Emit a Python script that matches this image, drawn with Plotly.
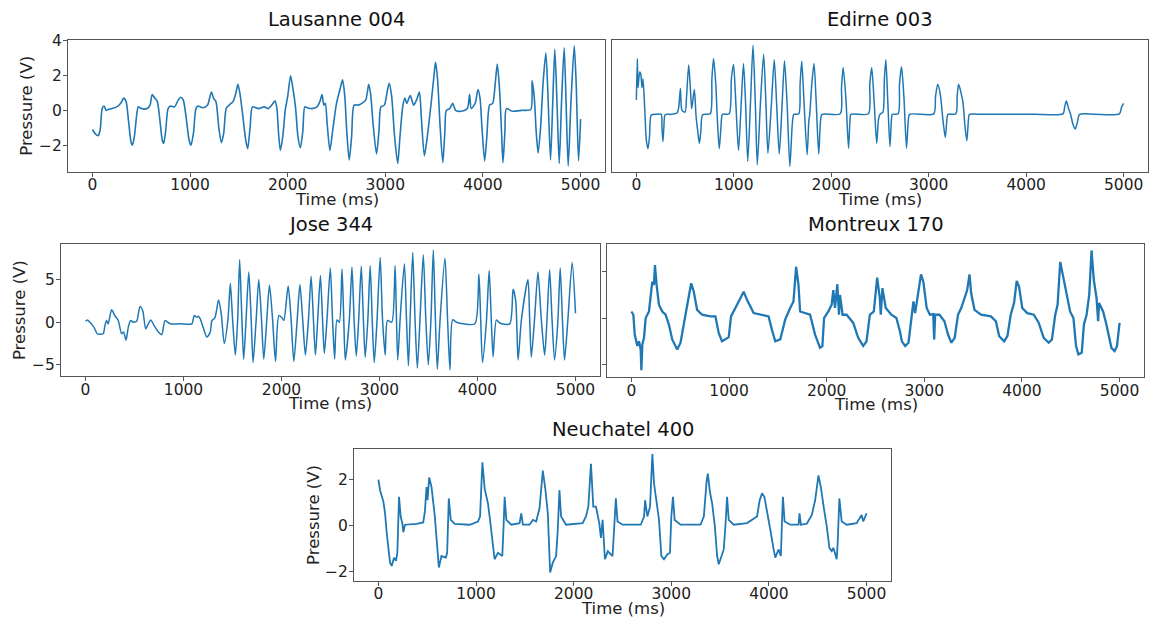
import plotly.graph_objects as go

# ---------------- data (time ms, pressure V) ----------------
lausanne = [(0,-1.1),(30,-1.35),(60,-1.45),(80,-1.1),(100,0.1),(120,0.25),(140,0.0),(160,0.05),(200,0.1),(250,0.2),
 (290,0.4),(320,0.7),(345,0.5),(370,-0.6),(395,-1.8),(410,-2.0),(430,-1.5),(455,-0.2),(470,0.2),(500,0.1),(560,0.1),
 (590,0.3),(612,0.9),(640,0.7),(665,0.5),(690,-0.5),(715,-1.7),(730,-1.9),(750,-1.2),(775,0.1),(800,0.25),(840,0.2),
 (880,0.6),(905,0.75),(930,0.6),(960,-0.4),(990,-1.7),(1010,-2.0),(1035,-1.3),(1060,0.1),(1080,0.25),(1130,0.15),
 (1180,0.3),(1200,0.7),(1220,1.05),(1240,0.7),(1265,0.5),(1295,-1.0),(1320,-1.85),(1345,-1.3),(1370,0.1),(1400,0.3),
 (1440,0.5),(1470,1.0),(1490,1.5),(1510,1.0),(1540,-0.3),(1570,-1.7),(1590,-2.2),(1615,-1.0),(1640,0.2),(1700,0.1),
 (1760,0.2),(1800,0.1),(1850,0.4),(1870,0.55),(1890,0.1),(1905,-1.2),(1925,-2.3),(1950,-1.5),(1975,0.0),(2000,0.8),
 (2030,1.98),(2055,1.2),(2080,0.2),(2105,-1.5),(2130,-2.15),(2155,-1.2),(2175,0.2),(2200,0.15),(2250,0.1),(2300,0.2),
 (2330,0.5),(2352,0.9),(2370,0.3),(2385,0.4),(2405,-0.8),(2432,-2.3),(2460,-1.2),(2500,0.4),(2540,1.3),(2562,1.75),
 (2585,0.8),(2605,-1.2),(2630,-2.85),(2655,-1.5),(2680,0.3),(2720,0.3),(2760,0.4),(2800,0.6),(2830,1.5),(2850,0.9),
 (2875,-0.8),(2910,-2.5),(2935,-1.2),(2955,0.2),(2990,0.3),(3020,1.1),(3040,1.55),(3065,0.8),(3095,-1.5),(3127,-3.05),
 (3150,-1.5),(3178,0.2),(3200,0.7),(3220,0.4),(3255,0.85),(3290,0.3),(3320,0.6),(3349,1.05),(3370,-0.5),(3400,-2.6),
 (3430,-1.5),(3469,0.4),(3495,1.8),(3514,2.75),(3535,1.8),(3560,-0.8),(3589,-3.0),(3610,-1.2),(3625,0.0),(3660,0.1),
 (3690,0.4),(3720,0.0),(3780,-0.05),(3840,0.1),(3863,0.9),(3880,0.1),(3920,0.4),(3949,1.2),(3970,0.7),(3990,-1.0),
 (4017,-2.9),(4040,-1.5),(4068,0.3),(4100,0.4),(4125,1.5),(4147,2.65),(4170,1.2),(4190,-1.2),(4205,-3.0),(4225,-1.2),
 (4240,0.1),(4300,-0.05),(4400,0.0),(4490,0.05),(4503,1.7),(4525,0.8),(4545,-1.2),(4565,-2.45),(4590,-1.0),(4615,1.5),
 (4644,3.3),(4665,1.0),(4692,-2.85),(4715,0.5),(4736,3.5),(4758,0.5),(4781,-3.05),(4805,0.5),(4832,3.6),(4852,0.3),
 (4873,-3.2),(4900,0.3),(4935,3.7),(4955,1.5),(4979,-2.9),(5000,-0.5)]

edirne = [(0,0.6),(10,2.97),(17,1.3),(34,2.2),(45,2.1),(58,1.3),(68,1.8),(85,0.2),(102,-1.7),(119,-2.2),(135,-1.5),
 (153,-0.27),(200,-0.23),(255,-0.23),(262,-0.9),(272,-1.79),(282,-1.0),(296,-0.25),(360,-0.23),(418,-0.15),(435,0.2),
 (452,1.26),(468,0.0),(500,-0.1),(515,0.8),(537,2.6),(555,1.2),(568,0.1),(595,1.2),(612,-0.3),(630,-1.2),(646,-1.89),
 (662,-1.2),(680,-0.25),(758,-0.2),(775,1.8),(792,2.97),(815,1.5),(830,-0.4),(850,-2.2),(868,-1.0),(884,-0.23),
 (952,-0.2),(975,1.8),(997,2.65),(1020,0.5),(1048,-2.3),(1075,0.3),(1099,2.69),(1120,0.5),(1143,-2.93),(1170,0.3),
 (1197,3.73),(1220,0.5),(1241,-3.12),(1272,0.3),(1306,3.22),(1330,0.3),(1350,-2.46),(1385,0.3),(1415,2.91),(1440,0.3),
 (1466,-2.51),(1495,0.3),(1520,2.84),(1548,0.2),(1575,-3.22),(1600,-0.8),(1616,-0.23),(1667,-0.2),(1680,1.5),
 (1697,2.82),(1720,0.5),(1752,-2.55),(1770,-0.6),(1779,-0.23),(1800,1.5),(1823,2.69),(1845,0.5),(1871,-2.51),
 (1890,-0.6),(1905,-0.23),(2092,-0.2),(2105,1.3),(2122,2.46),(2150,0.7),(2177,-2.17),(2192,-0.6),(2201,-0.23),
 (2381,-0.2),(2395,1.5),(2415,2.44),(2440,0.5),(2466,-1.89),(2485,-0.5),(2500,-0.23),(2530,-0.1),(2545,1.8),
 (2560,2.91),(2580,0.5),(2602,-2.08),(2618,-0.5),(2626,-0.23),(2687,-0.2),(2700,1.5),(2721,2.5),(2745,0.8),
 (2772,-2.17),(2790,-0.6),(2803,-0.23),(3051,-0.2),(3070,0.8),(3092,1.5),(3118,0.95),(3145,-0.5),(3170,-1.56),
 (3187,-0.5),(3197,-0.23),(3279,-0.2),(3292,0.8),(3306,1.5),(3350,0.5),(3370,-0.8),(3391,-1.75),(3408,-0.5),
 (3418,-0.23),(3500,-0.22),(3700,-0.23),(3900,-0.23),(4100,-0.22),(4378,-0.2),(4395,0.2),(4412,0.53),(4435,0.1),
 (4456,-0.23),(4480,-0.8),(4503,-1.07),(4525,-0.7),(4548,-0.23),(4700,-0.22),(4956,-0.2),(4980,0.2),(5000,0.4)]

jose = [(0,0.1),(20,0.27),(45,0.0),(61,-0.2),(95,-0.77),(119,-1.35),(147,-1.42),(181,-1.35),(198,-0.4),(215,0.2),
 (232,-0.2),(266,1.46),(300,0.77),(334,0.2),(369,-1.35),(389,-1.15),(413,-2.1),(437,-0.58),(461,0.19),(488,0.0),
 (522,0.1),(556,1.85),(584,1.35),(614,-0.77),(641,-0.2),(666,0.27),(700,-0.38),(744,-1.15),(778,-1.46),(812,0.19),
 (863,-0.19),(966,-0.19),(1085,-0.19),(1109,0.77),(1136,0.58),(1150,0.7),(1171,0.38),(1205,-0.77),(1239,-1.73),
 (1273,-1.15),(1290,0.19),(1320,0.5),(1358,2.6),(1385,1.0),(1416,-2.5),(1454,0.4),(1478,4.54),(1500,0.5),(1529,-3.85),
 (1553,0.4),(1573,7.3),(1594,1.0),(1614,-4.35),(1638,0.2),(1666,5.88),(1690,0.5),(1710,-4.73),(1741,0.2),(1768,5.0),
 (1795,0.5),(1819,-4.35),(1850,0.3),(1877,4.35),(1908,0.5),(1939,-4.6),(1973,0.77),(2007,0.5),(2024,0.19),(2068,4.23),
 (2097,0.5),(2126,-4.6),(2160,0.27),(2188,4.42),(2215,0.5),(2244,-3.85),(2275,0.27),(2302,5.38),(2325,0.5),
 (2346,-3.85),(2370,0.4),(2397,5.46),(2418,0.5),(2437,-3.65),(2464,0.27),(2498,6.35),(2520,0.5),(2542,-4.3),
 (2566,0.27),(2590,0.0),(2617,6.23),(2635,0.5),(2651,-4.42),(2692,0.27),(2719,6.46),(2740,0.5),(2763,-3.96),
 (2787,0.2),(2814,6.54),(2835,0.5),(2854,-4.1),(2881,0.27),(2905,6.6),(2925,0.5),(2946,-4.73),(2973,-0.2),
 (3007,7.58),(3030,0.5),(3058,-3.85),(3082,0.2),(3125,0.0),(3159,6.6),(3173,0.5),(3186,-4.42),(3210,0.27),
 (3254,6.85),(3275,0.5),(3295,-5.1),(3312,0.2),(3339,8.15),(3362,0.5),(3386,-5.38),(3413,0.27),(3447,7.88),
 (3472,0.5),(3498,-5.0),(3525,0.27),(3549,8.46),(3570,0.5),(3590,-5.5),(3617,0.1),(3668,7.5),(3694,0.5),
 (3719,-5.58),(3746,0.27),(3786,0.0),(3854,-0.19),(3973,-0.19),(4014,5.65),(4032,0.5),(4051,-4.73),(4092,0.27),
 (4119,6.04),(4140,0.5),(4159,-4.04),(4193,0.27),(4227,-0.1),(4329,-0.19),(4363,3.85),(4390,2.5),(4414,-4.42),
 (4448,0.27),(4515,5.0),(4532,0.5),(4549,-4.1),(4583,0.5),(4617,5.88),(4650,0.5),(4685,-3.85),(4709,0.27),
 (4736,6.15),(4760,0.5),(4786,-4.42),(4820,0.1),(4844,6.35),(4866,0.5),(4888,-4.42),(4922,0.27),(4966,7.0),(5000,1.04)]

montreux = [(0,0.28),(20,0.14),(34,-0.71),(61,-1.2),(78,-1.0),(95,-1.35),(102,-2.24),(112,-1.13),(129,-0.85),(146,0.0),
 (180,0.28),(214,1.56),(231,1.42),(241,2.27),(258,1.42),(282,0.57),(316,0.28),(350,0.14),(384,-0.28),(418,-0.92),
 (469,-1.35),(503,-1.06),(554,0.14),(588,1.0),(612,1.49),(639,1.13),(673,0.35),(724,0.14),(809,0.07),(860,0.07),
 (894,-0.64),(928,-1.0),(962,-0.92),(997,-0.82),(1020,0.07),(1048,0.28),(1099,0.71),(1150,1.13),(1184,0.78),
 (1252,0.21),(1320,0.14),(1405,0.07),(1439,-0.5),(1473,-1.0),(1524,-0.92),(1575,-0.07),(1626,0.43),(1660,0.71),
 (1687,2.2),(1711,1.42),(1728,0.28),(1779,0.21),(1830,0.14),(1881,-0.71),(1932,-1.28),(1956,-1.21),(1973,0.0),
 (2017,0.28),(2051,0.57),(2068,1.2),(2085,0.43),(2109,1.45),(2126,0.14),(2136,0.99),(2163,0.14),(2204,0.14),
 (2272,-0.21),(2323,-0.85),(2374,-1.2),(2408,-1.0),(2442,0.14),(2483,0.28),(2517,1.73),(2544,0.85),(2554,0.14),
 (2571,1.28),(2605,0.43),(2663,0.14),(2714,0.0),(2750,-0.57),(2770,-1.0),(2804,-1.2),(2838,-1.06),(2872,0.14),
 (2889,0.71),(2906,0.21),(2932,0.85),(2966,1.87),(2990,1.56),(3024,0.43),(3057,0.14),(3091,0.17),(3101,-0.92),
 (3111,0.14),(3155,0.14),(3206,-0.14),(3243,-0.71),(3277,-1.06),(3311,-0.85),(3345,0.14),(3378,0.43),(3439,1.2),
 (3463,1.87),(3480,1.06),(3514,0.35),(3581,0.14),(3682,0.07),(3733,-0.14),(3767,-0.78),(3818,-1.0),(3851,-0.78),
 (3885,0.14),(3919,0.64),(3946,1.59),(3970,1.35),(4003,0.43),(4054,0.21),(4122,0.14),(4172,-0.21),(4223,-0.85),
 (4274,-1.06),(4307,-0.92),(4341,0.14),(4365,0.57),(4392,2.41),(4419,1.84),(4443,1.42),(4493,0.28),(4527,0.0),
 (4554,-1.2),(4578,-1.56),(4612,-1.49),(4635,-0.28),(4662,0.14),(4689,1.0),(4713,2.9),(4736,1.63),(4764,0.85),
 (4780,-0.14),(4790,0.64),(4831,0.28),(4865,-0.28),(4916,-1.28),(4949,-1.42),(4973,-1.21),(5000,-0.21)]

neuchatel = [(0,2.0),(17,1.54),(51,1.04),(68,0.53),(85,-0.33),(102,-1.05),(119,-1.63),(136,-1.77),(160,-1.41),
 (180,-1.55),(194,-1.2),(211,1.25),(228,0.39),(245,0.1),(255,-0.3),(272,0.03),(391,0.07),(459,0.13),(476,0.6),
 (493,1.68),(503,1.1),(520,2.1),(544,1.68),(578,0.39),(595,-0.62),(619,-1.84),(646,-1.34),(690,-1.41),(704,-1.2),
 (721,1.18),(741,0.24),(782,0.07),(935,0.03),(1020,0.17),(1041,0.39),(1065,2.76),(1088,1.61),(1122,0.96),(1139,0.39),
 (1167,-0.76),(1190,-1.48),(1224,-1.2),(1269,-1.34),(1282,-0.04),(1293,1.25),(1310,0.24),(1361,0.03),(1446,0.1),
 (1463,0.53),(1480,0.03),(1548,0.03),(1582,0.24),(1616,0.17),(1650,0.75),(1684,2.4),(1711,1.54),(1735,0.53),
 (1759,-2.06),(1786,-1.63),(1820,-1.34),(1837,-0.19),(1854,1.54),(1871,0.39),(1922,0.03),(2092,0.1),(2126,0.39),
 (2150,0.82),(2177,2.69),(2201,0.82),(2228,0.82),(2262,0.1),(2279,-0.55),(2296,0.24),(2320,-1.48),(2350,-1.13),
 (2398,-1.34),(2415,-0.04),(2432,1.18),(2449,0.17),(2500,0.03),(2687,0.03),(2721,0.39),(2731,1.1),(2755,0.39),
 (2782,0.82),(2806,3.12),(2823,1.83),(2850,0.96),(2874,0.24),(2898,-1.34),(2925,-1.48),(2959,-1.27),(2986,-1.2),
 (3000,0.39),(3017,1.25),(3034,0.24),(3095,0.03),(3299,0.03),(3333,0.39),(3361,1.9),(3374,2.26),(3395,1.47),
 (3418,0.96),(3446,-0.04),(3469,-1.34),(3486,-1.7),(3510,-1.41),(3537,-1.05),(3554,-0.04),(3571,1.25),(3588,0.24),
 (3639,0.03),(3776,0.1),(3827,0.24),(3878,0.39),(3905,1.1),(3929,1.4),(3953,1.25),(3980,0.53),(4014,-0.19),
 (4048,-1.05),(4065,-1.41),(4099,-1.05),(4122,-1.34),(4133,0.1),(4143,1.25),(4160,0.17),(4218,0.03),(4303,0.03),
 (4313,0.53),(4327,0.03),(4388,0.07),(4439,0.46),(4473,1.1),(4507,2.19),(4531,1.68),(4565,0.68),(4592,-0.04),
 (4619,-0.98),(4643,-1.12),(4660,-0.98),(4694,-1.48),(4704,-0.76),(4721,1.18),(4745,0.17),(4796,0.03),(4898,0.1),
 (4949,0.46),(4966,0.17),(5000,0.53)]

titles = ["Lausanne 004", "Edirne 003", "Jose 344", "Montreux 170", "Neuchatel 400"]
x_ticks = [0, 1000, 2000, 3000, 4000, 5000]
y_ticks = [[-2, 0, 2, 4], [-2, 0, 2, 4], [-5, 0, 5], [-2, 0, 2], [-2, 0, 2]]

# ---------------- layout geometry (pixels of the 1150x621 page) ----------------
W, H = 1150, 621
series = [lausanne, edirne, jose, montreux, neuchatel]
boxes = [(68, 605, 32, 166), (612, 1148, 32, 166), (61, 600, 239, 373), (607, 1144, 239, 374), (354, 891, 447, 580)]
y_ranges = [[-3.53, 4.06], [-3.53, 4.06], [-6.32, 9.16], [-2.54, 3.18], [-2.41, 3.33]]
show_ylabels = [True, False, True, False, True]
show_yticks = [True, False, True, True, True]
shapes_kind = ["spline", "spline", "spline", "linear", "linear"]
line_w = [1.6, 1.5, 1.5, 2.3, 1.8]
ylabel_x = [27, None, 19, None, 314]

FONT = "DejaVu Sans"
BLUE = "#1f77b4"
AX = "#555555"

fig = go.Figure()
annotations = []
layout_axes = {}
for i, (data, box) in enumerate(zip(series, boxes)):
    n = "" if i == 0 else str(i + 1)
    t = [p[0] for p in data]
    v = [p[1] for p in data]
    line = dict(color=BLUE, width=line_w[i], shape=shapes_kind[i])
    if shapes_kind[i] == "spline":
        line["smoothing"] = 0.7
    fig.add_trace(go.Scatter(x=t, y=v, mode="lines", xaxis="x" + n, yaxis="y" + n,
                             showlegend=False, line=line, hoverinfo="skip"))
    x0, x1, y0, y1 = box
    layout_axes["xaxis" + n] = dict(
        domain=[x0 / W, x1 / W], anchor="y" + n, range=[-250, 5250],
        tickvals=x_ticks, ticktext=[str(v) for v in x_ticks],
        ticks="outside", ticklen=4, tickcolor=AX, tickwidth=1, ticklabelstandoff=-5,
        showline=True, linecolor=AX, linewidth=1, mirror=True,
        showgrid=False, zeroline=False,
        tickfont=dict(family=FONT, size=15.5, color="#222"))
    layout_axes["yaxis" + n] = dict(
        domain=[1 - y1 / H, 1 - y0 / H], anchor="x" + n, range=y_ranges[i],
        tickvals=y_ticks[i], showticklabels=show_ylabels[i],
        ticks="outside" if show_yticks[i] else "", ticklen=4, tickcolor=AX, tickwidth=1,
        ticklabelstandoff=-2,
        showline=True, linecolor=AX, linewidth=1, mirror=True,
        showgrid=False, zeroline=False,
        tickfont=dict(family=FONT, size=15.5, color="#222"))
    cx = (x0 + x1) / 2
    annotations.append(dict(text=titles[i], x=cx / W, y=1 - (y0 - 20) / H, xref="paper", yref="paper",
                            xanchor="center", yanchor="middle", showarrow=False,
                            font=dict(family=FONT, size=19.5, color="#111")))
    annotations.append(dict(text="Time (ms)", x=cx / W, y=1 - (y1 + 28) / H, xref="paper", yref="paper",
                            xanchor="center", yanchor="middle", showarrow=False,
                            font=dict(family=FONT, size=16.5, color="#222")))
    if ylabel_x[i] is not None:
        annotations.append(dict(text="Pressure (V)", x=ylabel_x[i] / W, y=1 - ((y0 + y1) / 2) / H,
                                xref="paper", yref="paper", xanchor="center", yanchor="middle",
                                showarrow=False, textangle=-90,
                                font=dict(family=FONT, size=16.5, color="#222")))

fig.update_layout(
    width=W, height=H, margin=dict(l=0, r=0, t=0, b=0),
    paper_bgcolor="white", plot_bgcolor="white",
    annotations=annotations, **layout_axes)

pin_to_corner = (
    "document.documentElement.style.margin='0';document.body.style.margin='0';"
    "document.body.style.overflow='hidden';"
    "var g=document.getElementsByClassName('plotly-graph-div')[0];"
    "g.style.position='fixed';g.style.left='0px';g.style.top='0px';"
)
fig.write_html("out.html", post_script=pin_to_corner, config={"displayModeBar": False})
